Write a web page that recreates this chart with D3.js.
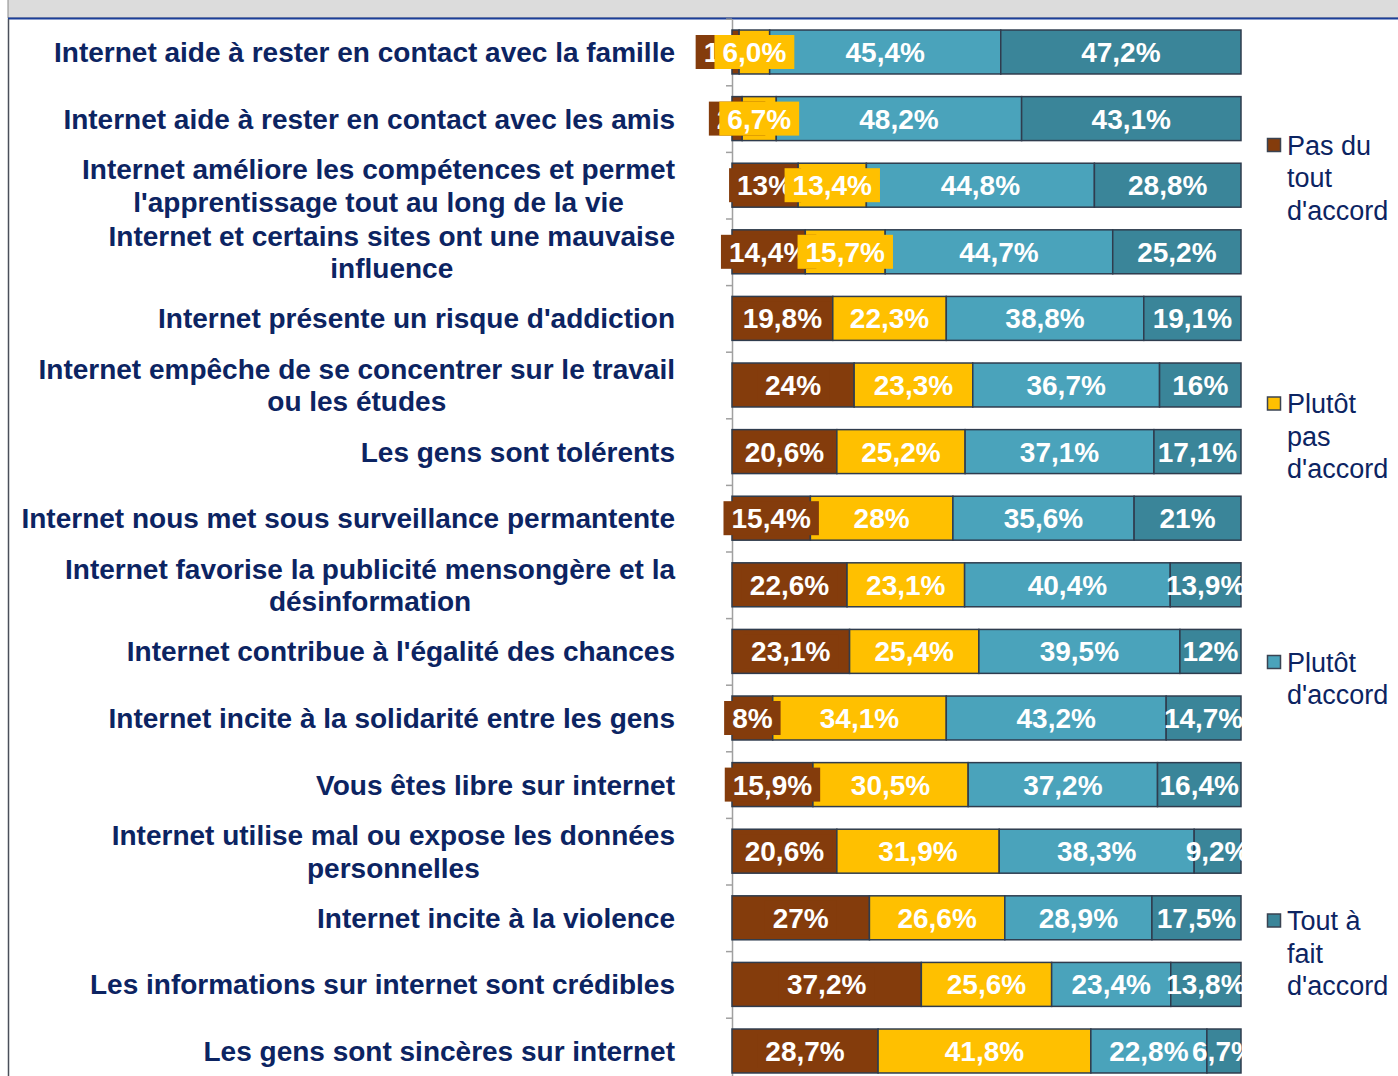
<!DOCTYPE html>
<html>
<head>
<meta charset="utf-8">
<script src="https://cdn.jsdelivr.net/npm/d3@7"></script>
<style>
  body { margin: 0; background: #fff; }
  svg { display: block; }
</style>
</head>
<body>
<svg id="chart" width="1398" height="1076"></svg>
<script>
// categories (line breaks as in the original)
const categories = [
  "Internet aide à rester en contact avec la famille",
  "Internet aide à rester en contact avec les amis",
  "Internet améliore les compétences et permet\nl'apprentissage tout au long de la vie",
  "Internet et certains sites ont une mauvaise\ninfluence",
  "Internet présente un risque d'addiction",
  "Internet empêche de se concentrer sur le travail\nou les études",
  "Les gens sont tolérents",
  "Internet nous met sous surveillance permantente",
  "Internet favorise la publicité mensongère et la\ndésinformation",
  "Internet contribue à l'égalité des chances",
  "Internet incite à la solidarité entre les gens",
  "Vous êtes libre sur internet",
  "Internet utilise mal ou expose les données\npersonnelles",
  "Internet incite à la violence",
  "Les informations sur internet sont crédibles",
  "Les gens sont sincères sur internet"
];

// values as printed on the labels (%)
const pasDuTout    = ["1,4", "2", "13", "14,4", "19,8", "24", "20,6", "15,4", "22,6", "23,1", "8", "15,9", "20,6", "27", "37,2", "28,7"];
const plutotPas    = ["6,0", "6,7", "13,4", "15,7", "22,3", "23,3", "25,2", "28", "23,1", "25,4", "34,1", "30,5", "31,9", "26,6", "25,6", "41,8"];
const plutotAccord = ["45,4", "48,2", "44,8", "44,7", "38,8", "36,7", "37,1", "35,6", "40,4", "39,5", "43,2", "37,2", "38,3", "28,9", "23,4", "22,8"];
const toutAFait    = ["47,2", "43,1", "28,8", "25,2", "19,1", "16", "17,1", "21", "13,9", "12", "14,7", "16,4", "9,2", "17,5", "13,8", "6,7"];

const seriesKeys = ["pas", "plutotPas", "plutotAcc", "tout"];
const seriesLegend = [["Pas du", "tout", "d'accord"], ["Plutôt", "pas", "d'accord"], ["Plutôt", "d'accord"], ["Tout à", "fait", "d'accord"]];
const colors = ["#843c0c", "#ffc000", "#4aa3bb", "#3a8599"];
const boxed = [true, true, false, false];

const num = s => +s.replace(",", ".");
const rawCols = [pasDuTout, plutotPas, plutotAccord, toutAFait];

const table = categories.map((c, i) => {
  const row = { cat: i };
  seriesKeys.forEach((k, j) => { row[k] = num(rawCols[j][i]); });
  return row;
});

const svg = d3.select("#chart");
const FONT = "'Liberation Sans', Arial, sans-serif";
const navy = "#0c2462";

// frame: grey title strip (its text is cut off above the picture) and left border
svg.append("rect").attr("x", 8).attr("y", -2).attr("width", 1392).attr("height", 20)
  .attr("fill", "#dcdcdc").attr("stroke", "#8a8a8a").attr("stroke-width", 1);
svg.append("line").attr("x1", 8).attr("x2", 1398).attr("y1", 18.5).attr("y2", 18.5)
  .attr("stroke", "#1c3f9a").attr("stroke-width", 2);
svg.append("line").attr("x1", 8.5).attr("x2", 8.5).attr("y1", 19).attr("y2", 1076)
  .attr("stroke", "#4a4f5a").attr("stroke-width", 1.5);

const x = d3.scaleLinear().domain([0, 100]).range([732, 1241]);
const y = d3.scaleBand().domain(d3.range(categories.length))
  .range([18.7, 1084.3]).paddingInner(0.34).paddingOuter(0.17);
const yEdge = d3.scaleLinear().domain([0, categories.length]).range([18.7, 1084.3]);

const stack = d3.stack().keys(seriesKeys)(table);

// category axis: line with ticks between the bars
const axis = svg.append("g").attr("transform", "translate(732,0)")
  .call(d3.axisLeft(yEdge).tickValues(d3.range(0, categories.length + 1))
    .tickFormat("").tickSizeInner(6).tickSizeOuter(0));
axis.selectAll("line, path").attr("stroke", "#a0a0a0").attr("stroke-width", 1.5);

// bars
svg.append("g").selectAll("g").data(stack).join("g")
  .attr("fill", (d, i) => colors[i])
  .selectAll("rect").data(d => d).join("rect")
  .attr("x", d => x(d[0]))
  .attr("y", d => y(d.data.cat))
  .attr("width", d => x(d[1]) - x(d[0]))
  .attr("height", y.bandwidth())
  .attr("stroke", "#2f3c4e").attr("stroke-width", 1.5);

// value labels, clipped at the right edge of the plot
svg.append("clipPath").attr("id", "plotclip")
  .append("rect").attr("x", 0).attr("y", 0).attr("width", 1243).attr("height", 1076);

const labels = svg.append("g").attr("clip-path", "url(#plotclip)");
stack.forEach((s, si) => {
  s.forEach((d, i) => {
    const cx = (x(d[0]) + x(d[1])) / 2;
    const cy = y(d.data.cat) + y.bandwidth() / 2;
    const g = labels.append("g");
    const t = g.append("text")
      .attr("x", cx).attr("y", cy).attr("dy", "0.36em")
      .attr("text-anchor", "middle")
      .attr("font-family", FONT).attr("font-weight", "bold").attr("font-size", 28)
      .attr("fill", "#fff")
      .text(rawCols[si][i] + "%");
    if (boxed[si]) {
      const w = t.node().getComputedTextLength() + 16;
      g.insert("rect", "text")
        .attr("x", cx - w / 2).attr("y", cy - 17)
        .attr("width", w).attr("height", 34)
        .attr("fill", colors[si]);
    }
  });
});

// category labels: block right-aligned, lines centred inside the block
const catG = svg.append("g");
categories.forEach((c, i) => {
  const lines = c.split("\n");
  const cy = y(i) + y.bandwidth() / 2;
  const g = catG.append("g");
  const texts = lines.map((ln, k) => g.append("text")
    .attr("y", cy + (k - (lines.length - 1) / 2) * 32.5)
    .attr("dy", "0.36em")
    .attr("font-family", FONT).attr("font-weight", "bold").attr("font-size", 28)
    .attr("fill", navy)
    .text(ln));
  const maxW = d3.max(texts, t => t.node().getComputedTextLength());
  texts.forEach(t => t.attr("text-anchor", "middle").attr("x", 675 - maxW / 2));
});

// legend
const leg = svg.append("g");
seriesLegend.forEach((lines, i) => {
  const ly = 145 + i * 258.5;
  leg.append("rect").attr("x", 1267.5).attr("y", ly - 6.5).attr("width", 13).attr("height", 13)
    .attr("fill", colors[i]).attr("stroke", "#3a4352").attr("stroke-width", 1.5);
  lines.forEach((ln, k) => {
    leg.append("text").attr("x", 1287).attr("y", ly + k * 32.5).attr("dy", "0.36em")
      .attr("font-family", FONT).attr("font-size", 27).attr("fill", navy)
      .text(ln);
  });
});
</script>
</body>
</html>
